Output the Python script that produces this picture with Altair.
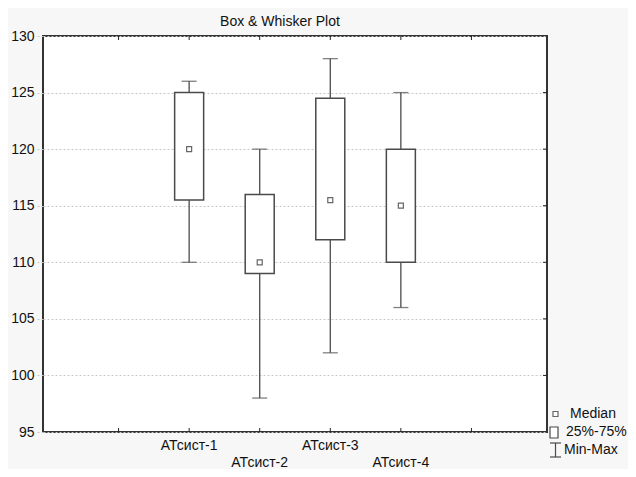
import altair as alt
import pandas as pd

# ---- data ----
categories = ["АТсист-1", "АТсист-2", "АТсист-3", "АТсист-4"]
mins = [110, 98, 102, 106]
q1s = [115.5, 109, 112, 110]
medians = [120, 110, 115.5, 115]
q3s = [125, 116, 124.5, 120]
maxs = [126, 120, 128, 125]
x_ticks = [1, 2, 3, 4, 5, 6]
y_ticks = [95, 100, 105, 110, 115, 120, 125, 130]
legend_labels = ["Median", "25%-75%", "Min-Max"]

df = pd.DataFrame({"cat": categories, "min": mins, "q1": q1s,
                   "median": medians, "q3": q3s, "max": maxs})
df["pos"] = list(range(2, 2 + len(categories)))
df["row"] = [i % 2 for i in range(len(categories))]

W, H = 504, 396
FONT = "Liberation Sans"
DARK = "#4a4a4a"
TXT = "#111111"

xs = alt.Scale(domain=[0, 7], nice=False, zero=False)
ys = alt.Scale(domain=[95, 130], nice=False, zero=False)
yaxis = alt.Axis(values=y_ticks, grid=True, gridDash=[2, 2], gridColor="#c8c8c8",
                 gridWidth=1, domain=False, labelFont=FONT, labelFontSize=14,
                 labelColor=TXT, tickSize=6, tickColor="#c8c8c8", tickDash=[2, 2],
                 labelPadding=3, title=None)

X = alt.X("pos:Q", scale=xs, axis=None)
base = alt.Chart(df)

whisker = base.mark_rule(color=DARK, strokeWidth=1.3).encode(
    x=X, y=alt.Y("min:Q", scale=ys, axis=yaxis), y2="max:Q")
box = base.mark_bar(size=29, fill="white", stroke=DARK, strokeWidth=1.5).encode(
    x=X, y=alt.Y("q1:Q", scale=ys, axis=yaxis), y2="q3:Q")
cap_lo = base.mark_tick(orient="horizontal", size=15, thickness=1.3, color=DARK).encode(
    x=X, y=alt.Y("min:Q", scale=ys, axis=yaxis))
cap_hi = base.mark_tick(orient="horizontal", size=15, thickness=1.3, color=DARK).encode(
    x=X, y=alt.Y("max:Q", scale=ys, axis=yaxis))
med = base.mark_square(size=25, fill="white", stroke="#666666", strokeWidth=1.2,
                       opacity=1).encode(x=X, y=alt.Y("median:Q", scale=ys, axis=yaxis))

lab1 = base.transform_filter("datum.row == 0").mark_text(
    font=FONT, fontSize=14, color=TXT, align="center", baseline="middle").encode(
    x=X, y=alt.value(410), text="cat:N")
lab2 = base.transform_filter("datum.row == 1").mark_text(
    font=FONT, fontSize=14, color=TXT, align="center", baseline="middle").encode(
    x=X, y=alt.value(427), text="cat:N")

# inward frame ticks
tdf = pd.DataFrame({"t": x_ticks})
ydf = pd.DataFrame({"v": y_ticks[1:-1]})
tick_bot = alt.Chart(tdf).mark_rule(color="#222222", strokeWidth=1).encode(
    x=alt.X("t:Q", scale=xs, axis=None), y=alt.value(H - 4), y2=alt.value(H))
tick_top = alt.Chart(tdf).mark_rule(color="#222222", strokeWidth=1).encode(
    x=alt.X("t:Q", scale=xs, axis=None), y=alt.value(0), y2=alt.value(4))
tick_right = alt.Chart(ydf).mark_rule(color="#222222", strokeWidth=1).encode(
    y=alt.Y("v:Q", scale=ys, axis=yaxis), x=alt.value(W - 4), x2=alt.value(W))

# legend
LX = -6
ldf = pd.DataFrame({"label": legend_labels})
one = alt.Chart(ldf).transform_filter("datum.label == 'Median'")
leg_med = one.mark_square(size=25, fill="white", stroke="#666666", strokeWidth=1.2,
                          opacity=1).encode(x=alt.value(518.5 + LX), y=alt.value(378))
leg_box = one.mark_rect(fill="white", stroke=DARK, strokeWidth=1.2).encode(
    x=alt.value(513 + LX), x2=alt.value(521 + LX), y=alt.value(391), y2=alt.value(402))
leg_stem = one.mark_rule(color=DARK, strokeWidth=1.2).encode(
    x=alt.value(518.5 + LX), y=alt.value(407), y2=alt.value(421))
leg_c1 = one.mark_rule(color=DARK, strokeWidth=1.2).encode(
    x=alt.value(513 + LX), x2=alt.value(524 + LX), y=alt.value(407))
leg_c2 = one.mark_rule(color=DARK, strokeWidth=1.2).encode(
    x=alt.value(513 + LX), x2=alt.value(524 + LX), y=alt.value(421))
leg_texts = []
for lbl, lx, ly in zip(legend_labels, [533, 529, 527], [378, 396, 414]):
    leg_texts.append(
        alt.Chart(ldf).transform_filter(alt.datum.label == lbl).mark_text(
            font=FONT, fontSize=14, color=TXT, align="left", baseline="middle").encode(
            x=alt.value(lx + LX), y=alt.value(ly), text="label:N"))

chart = alt.layer(
    whisker, box, cap_lo, cap_hi, med, lab1, lab2, tick_bot, tick_top, tick_right,
    leg_med, leg_box, leg_stem, leg_c1, leg_c2, *leg_texts
).properties(
    width=W, height=H,
    title=alt.TitleParams("Box & Whisker Plot", font=FONT, fontSize=14,
                          fontWeight="normal", color=TXT, anchor="middle",
                          dx=-15, offset=0),
    autosize=alt.AutoSizeParams(type="none"),
    padding={"left": 35, "top": 28, "right": 81, "bottom": 37},
    background="#f7f7f7",
).configure_view(stroke="#333333", strokeWidth=2, fill="white")

chart.save("out.html", embed_options={"renderer": "svg", "actions": False})
